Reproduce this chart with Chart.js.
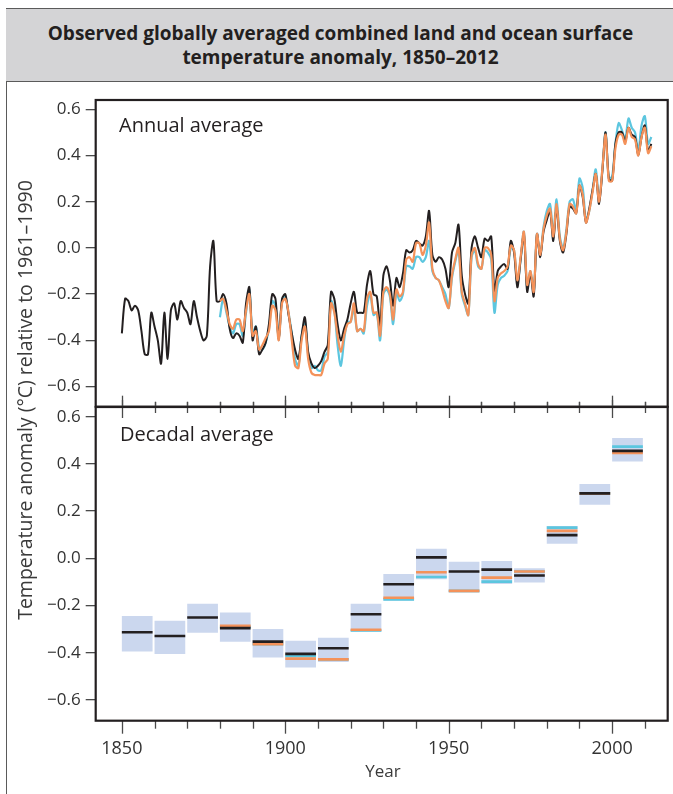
<!DOCTYPE html>
<html>
<head>
<meta charset="utf-8">
<script src="https://cdn.jsdelivr.net/npm/chart.js@4.4.0/dist/chart.umd.min.js"></script>
<style>
  body { margin: 0; width: 673px; height: 794px; position: relative; overflow: hidden; background: #fff; font-family: "Open Sans", sans-serif; color: #231f20; }
  #frame { position: absolute; left: 6px; top: 8px; width: 700px; height: 800px; border-left: 1.5px solid #5a5a5a; }
  #header { position: absolute; left: 6px; top: 8px; width: 700px; height: 72px; background: #d4d4d6; border-top: 1.5px solid #5a5a5a; border-bottom: 1.5px solid #5a5a5a; }
  #title { position: absolute; left: 7px; top: 21px; width: 667px; text-align: center; font-weight: 700; font-size: 19px; line-height: 24px; color: #231f20; }
  .note { position: absolute; font-size: 20px; line-height: 26px; color: #231f20; }
  #ytitle { position: absolute; left: 25px; top: 400px; width: 500px; margin-left: -250px; margin-top: -12px; text-align: center; font-size: 19.5px; line-height: 24px; color: #3a3a3a; transform: rotate(-90deg); white-space: nowrap; }
  #xtitle { position: absolute; left: 333px; top: 759px; width: 100px; text-align: center; font-size: 17px; line-height: 24px; color: #3a3a3a; }
  canvas { position: absolute; left: 0; }
</style>
</head>
<body>
<div id="frame"></div>
<div id="header"></div>
<div id="title">Observed globally averaged combined land and ocean surface<br>temperature anomaly, 1850–2012</div>
<canvas id="annual" width="673" height="315" style="top:95px"></canvas>
<canvas id="decadal" width="673" height="394" style="top:400px"></canvas>
<div class="note" style="left:119px; top:112px;">Annual average</div>
<div class="note" style="left:120px; top:421px;">Decadal average</div>
<div id="ytitle">Temperature anomaly (°C) relative to 1961–1990</div>
<div id="xtitle">Year</div>
<script>
// Datos anuales (°C, relativo a 1961-1990)
const hadStart = 1850; // HadCRUT4 empieza en 1850
const hadcrut4 = [
  -0.37,-0.22,-0.23,-0.27,-0.25,-0.27,-0.36,-0.46,-0.46,-0.28,
  -0.34,-0.40,-0.50,-0.28,-0.48,-0.27,-0.24,-0.31,-0.23,-0.26,
  -0.28,-0.33,-0.23,-0.30,-0.36,-0.40,-0.38,-0.08,0.03,-0.23,
  -0.23,-0.20,-0.24,-0.35,-0.39,-0.37,-0.38,-0.41,-0.24,-0.17,
  -0.40,-0.34,-0.46,-0.44,-0.41,-0.33,-0.20,-0.22,-0.40,-0.22,
  -0.20,-0.29,-0.37,-0.44,-0.48,-0.38,-0.30,-0.45,-0.50,-0.52,
  -0.51,-0.49,-0.45,-0.42,-0.19,-0.22,-0.33,-0.40,-0.35,-0.31,
  -0.24,-0.19,-0.28,-0.28,-0.28,-0.16,-0.10,-0.20,-0.21,-0.34,
  -0.12,-0.08,-0.14,-0.25,-0.13,-0.17,-0.11,-0.01,-0.02,-0.01,
  0.03,0.02,0.01,0.05,0.16,-0.03,-0.06,-0.04,-0.05,-0.09,
  -0.17,-0.02,0.02,0.10,-0.12,-0.20,-0.24,0.00,0.05,0.00,
  -0.04,0.04,0.03,0.05,-0.19,-0.10,-0.08,-0.07,-0.09,0.03,
  -0.02,-0.17,-0.05,0.06,-0.19,-0.11,-0.21,0.06,-0.04,0.07,
  0.12,0.16,0.03,0.18,0.03,-0.02,0.06,0.18,0.17,0.15,
  0.27,0.22,0.11,0.17,0.25,0.32,0.19,0.33,0.50,0.30,
  0.29,0.45,0.50,0.50,0.46,0.52,0.49,0.48,0.40,0.48,
  0.53,0.42,0.45
];
const otherStart = 1880; // MLOST y GISS empiezan en 1880
const mlost = [
  -0.23,-0.22,-0.27,-0.33,-0.35,-0.31,-0.31,-0.36,-0.27,-0.20,
  -0.38,-0.36,-0.44,-0.42,-0.39,-0.36,-0.25,-0.27,-0.40,-0.24,
  -0.22,-0.28,-0.40,-0.51,-0.52,-0.40,-0.34,-0.48,-0.54,-0.55,
  -0.55,-0.55,-0.50,-0.48,-0.24,-0.28,-0.38,-0.45,-0.38,-0.33,
  -0.32,-0.24,-0.36,-0.35,-0.36,-0.22,-0.19,-0.28,-0.28,-0.38,
  -0.19,-0.17,-0.20,-0.31,-0.18,-0.21,-0.19,-0.05,-0.04,-0.06,
  0.02,0.02,-0.03,0.01,0.11,-0.09,-0.13,-0.14,-0.18,-0.23,
  -0.26,-0.12,-0.05,0.00,-0.19,-0.24,-0.29,-0.03,0.00,-0.07,
  -0.09,0.00,0.00,-0.03,-0.23,-0.13,-0.11,-0.10,-0.08,0.01,
  -0.01,-0.14,-0.04,0.07,-0.16,-0.10,-0.19,0.06,-0.03,0.08,
  0.14,0.17,0.05,0.19,0.04,-0.01,0.07,0.19,0.18,0.15,
  0.27,0.23,0.11,0.16,0.24,0.32,0.20,0.34,0.49,0.29,
  0.29,0.43,0.49,0.49,0.45,0.52,0.48,0.47,0.40,0.48,
  0.52,0.41,0.44
];
const giss = [
  -0.30,-0.22,-0.28,-0.34,-0.37,-0.33,-0.33,-0.38,-0.28,-0.18,
  -0.37,-0.34,-0.43,-0.44,-0.41,-0.35,-0.23,-0.25,-0.39,-0.23,
  -0.21,-0.28,-0.37,-0.48,-0.51,-0.38,-0.32,-0.46,-0.52,-0.51,
  -0.53,-0.53,-0.47,-0.45,-0.23,-0.27,-0.42,-0.51,-0.40,-0.32,
  -0.32,-0.26,-0.36,-0.35,-0.37,-0.25,-0.20,-0.29,-0.28,-0.40,
  -0.20,-0.18,-0.21,-0.33,-0.19,-0.23,-0.20,-0.08,-0.08,-0.09,
  -0.04,-0.04,-0.06,-0.04,0.03,-0.10,-0.13,-0.14,-0.17,-0.20,
  -0.26,-0.13,-0.06,-0.01,-0.20,-0.25,-0.29,-0.04,-0.01,-0.08,
  -0.09,-0.01,-0.02,-0.05,-0.28,-0.16,-0.13,-0.12,-0.10,0.00,
  -0.01,-0.15,-0.05,0.07,-0.17,-0.10,-0.19,0.06,-0.03,0.09,
  0.16,0.19,0.06,0.21,0.05,0.00,0.08,0.20,0.21,0.16,
  0.30,0.26,0.12,0.16,0.25,0.34,0.21,0.34,0.50,0.30,
  0.31,0.45,0.54,0.51,0.47,0.56,0.52,0.50,0.42,0.53,
  0.57,0.45,0.48
];

// Datos decadales
const decades = [1850,1860,1870,1880,1890,1900,1910,1920,1930,1940,1950,1960,1970,1980,1990,2000];
const hadDecadal   = [-0.313,-0.329,-0.251,-0.296,-0.353,-0.405,-0.381,-0.237,-0.110,0.004,-0.056,-0.048,-0.073,0.098,0.275,0.455];
const mlostDecadal = [null,null,null,-0.286,-0.364,-0.425,-0.428,-0.303,-0.167,-0.059,-0.138,-0.082,-0.056,0.116,0.275,0.446];
const gissDecadal  = [null,null,null,-0.290,-0.364,-0.414,-0.428,-0.306,-0.174,-0.079,-0.138,-0.099,-0.056,0.130,0.275,0.473];
const uncertHigh = [-0.244,-0.265,-0.193,-0.230,-0.300,-0.349,-0.337,-0.193,-0.066,0.040,-0.015,-0.011,-0.042,0.137,0.315,0.510];
const uncertLow  = [-0.395,-0.405,-0.315,-0.353,-0.420,-0.463,-0.439,-0.311,-0.179,-0.089,-0.145,-0.109,-0.103,0.062,0.227,0.410];

// Marcas de ejes
const yTicks = [-0.6,-0.4,-0.2,0.0,0.2,0.4,0.6];
const xLabels = [1850,1900,1950,2000];
const yearTicks = [1850,1860,1870,1880,1890,1900,1910,1920,1930,1940,1950,1960,1970,1980,1990,2000,2010];

const BLACK = '#231f20';
const ORANGE = '#f4925a';
const BLUE = '#5cc6df';
const BOX = '#cbd7ee';
const FONT = '"Open Sans", sans-serif';

function series(values, start) {
    return values.map((v, i) => ({ x: start + i, y: v }));
}

// Segmentos horizontales de cada década
function decadeSegments(values) {
    const pts = [];
    decades.forEach((d, i) => {
        if (values[i] === null) return;
        pts.push({ x: d, y: values[i] }, { x: d + 9.4, y: values[i] }, { x: d + 9.7, y: null });
    });
    return pts;
}

function tickLabel(v) {
    if (Math.abs(v) < 1e-9) return '0.0';
    return (v < 0 ? '\u2212' : '') + Math.abs(v).toFixed(1);
}

// Marco negro y marcas de años dentro/fuera del marco
const frameTicks = {
    id: 'frameTicks',
    afterDraw(chart, args, opts) {
        const { ctx, chartArea: a } = chart;
        const x = chart.scales.x;
        ctx.save();
        ctx.strokeStyle = '#4a4a4a';
        ctx.lineWidth = 1.3;
        yearTicks.forEach(yr => {
            const px = Math.round(x.getPixelForValue(yr)) + 0.5;
            const major = yr % 50 === 0;
            opts.edges.forEach(e => {
                const y0 = e.side === 'top' ? a.top : a.bottom;
                const len = major ? e.major : e.minor;
                ctx.beginPath();
                ctx.moveTo(px, y0);
                ctx.lineTo(px, y0 + e.dir * len);
                ctx.stroke();
            });
        });
        ctx.strokeStyle = BLACK;
        ctx.lineWidth = 2.2;
        ctx.strokeRect(a.left, a.top, a.right - a.left, a.bottom - a.top);
        ctx.restore();
    }
};

function yScale(min, max) {
    return {
        min: min, max: max,
        afterFit: s => { s.width = 95.7; s.paddingTop = 0; s.paddingBottom = 0; },
        afterBuildTicks: s => { s.ticks = yTicks.map(v => ({ value: v })); },
        border: { display: false },
        grid: { drawOnChartArea: false, drawTicks: true, tickLength: 10, color: '#4a4a4a', lineWidth: 1.3 },
        ticks: { padding: 5, color: '#333', font: { family: FONT, size: 17 }, callback: v => tickLabel(v) }
    };
}

const common = {
    responsive: false,
    animation: false,
    events: [],
    plugins: { legend: { display: false }, tooltip: { enabled: false } }
};

// Panel superior: promedio anual
new Chart(document.getElementById('annual'), {
    type: 'line',
    data: {
        datasets: [
            { data: series(giss, otherStart), borderColor: BLUE, borderWidth: 2.2, order: 3 },
            { data: series(hadcrut4, hadStart), borderColor: BLACK, borderWidth: 2, order: 2 },
            { data: series(mlost, otherStart), borderColor: ORANGE, borderWidth: 2.2, order: 1 }
        ]
    },
    options: {
        ...common,
        layout: { padding: { left: 0, top: 5, right: 5.3, bottom: 3.3 } },
        elements: { point: { radius: 0 }, line: { tension: 0.3 } },
        scales: {
            x: { type: 'linear', min: 1842, max: 2017, display: false },
            y: yScale(-0.687, 0.64)
        },
        plugins: { ...common.plugins, frameTicks: { edges: [{ side: 'bottom', dir: -1, minor: 5, major: 11 }] } }
    },
    plugins: [frameTicks]
});

// Panel inferior: promedio decadal
new Chart(document.getElementById('decadal'), {
    type: 'line',
    data: {
        datasets: [
            {
                type: 'bar',
                data: decades.map((d, i) => ({ x: d + 4.7, y: [uncertLow[i], uncertHigh[i]] })),
                backgroundColor: BOX,
                barPercentage: 0.94,
                categoryPercentage: 1,
                order: 4
            },
            { data: decadeSegments(gissDecadal), borderColor: BLUE, borderWidth: 2.6, spanGaps: false, order: 3 },
            { data: decadeSegments(mlostDecadal), borderColor: ORANGE, borderWidth: 2.6, spanGaps: false, order: 2 },
            { data: decadeSegments(hadDecadal), borderColor: BLACK, borderWidth: 2.6, spanGaps: false, order: 1 }
        ]
    },
    options: {
        ...common,
        layout: { padding: { left: 0, top: 7, right: 5.3, bottom: 0 } },
        elements: { point: { radius: 0 }, line: { tension: 0 } },
        scales: {
            x: {
                type: 'linear', min: 1842, max: 2017, offset: false,
                afterFit: s => { s.height = 73.3; s.paddingLeft = 0; s.paddingRight = 0; },
                afterBuildTicks: s => { s.ticks = xLabels.map(v => ({ value: v })); },
                border: { display: false },
                grid: { display: false },
                ticks: { padding: 9, color: '#333', font: { family: FONT, size: 18 }, callback: v => String(v) }
            },
            y: yScale(-0.688, 0.641)
        },
        plugins: {
            ...common.plugins,
            frameTicks: { edges: [
                { side: 'top', dir: 1, minor: 6, major: 11 },
                { side: 'top', dir: -1, minor: 5, major: 7 },
                { side: 'bottom', dir: 1, minor: 8, major: 13 }
            ] }
        }
    },
    plugins: [frameTicks]
});
</script>
</body>
</html>
